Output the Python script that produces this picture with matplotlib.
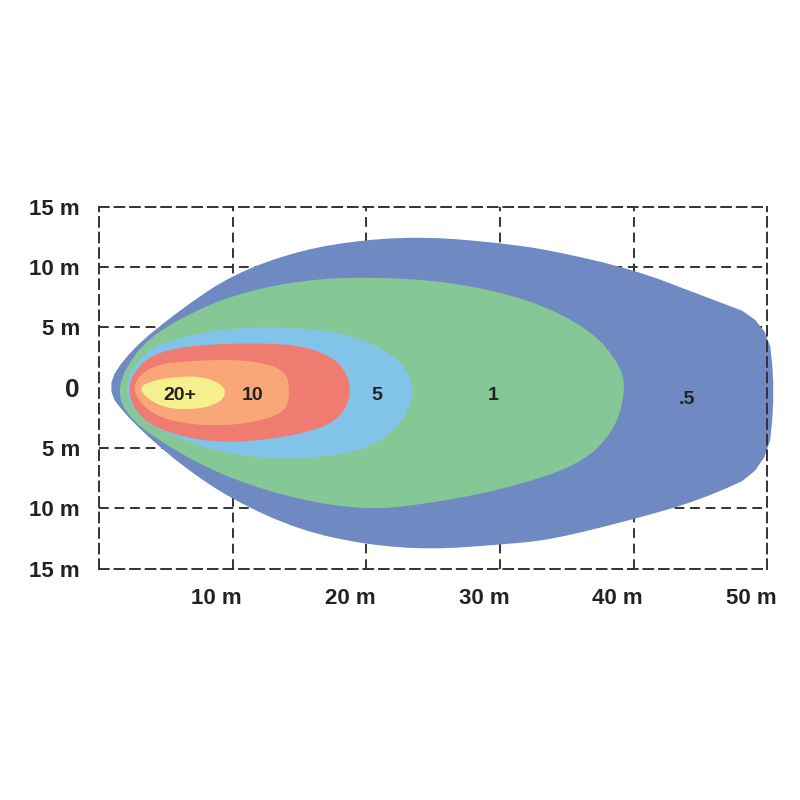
import matplotlib
matplotlib.use("Agg")
import matplotlib.pyplot as plt
import matplotlib.transforms as mtransforms
from matplotlib.patches import Polygon
import numpy as np

plt.rcParams['font.family'] = ['Liberation Sans', 'DejaVu Sans']

zone_labels = [".5", "1", "5", "10", "20+"]
zone_colors = ["#6f89c3", "#86c895", "#82c3ea", "#f07b70", "#f9a679", "#f7f08f"]

blue_x = [0.45, 2.3, 6.1, 10, 15, 20, 24.8, 30, 33.8, 40, 45, 50, 50.6, 50, 45, 40, 33.8, 30, 24.8, 20, 15, 10, 6.1, 2.3]
blue_y = [0, 3.1, 6.5, 9.4, 11.4, 12.3, 12.5, 12, 11.4, 9.8, 7.7, 5.6, -0.2, -6.8, -9.3, -10.9, -12.6, -13, -13.4, -13, -11.8, -9.3, -6.4, -2.7]
green_x = [1.2, 3.1, 6.1, 10, 15, 20, 26.3, 32.3, 36.8, 39, 39.4, 38.6, 36, 30, 24, 20, 15, 10, 6.1, 2.3]
green_y = [0, 3.6, 5.8, 7.7, 8.9, 9.2, 8.8, 7.3, 4.8, 1.9, -0.2, -3.5, -6.4, -8.5, -9.7, -10.1, -9.3, -7.6, -5.5, -2.7]
lblue_x = [1.7, 3.4, 6.1, 10, 15, 18.8, 22.2, 23.7, 22.9, 20.3, 15, 10, 6.1, 3.1]
lblue_y = [0, 3.1, 4.2, 5, 5, 4.4, 2.7, 0.2, -2.7, -5.1, -6, -5.6, -4.3, -2.7]
red_x = [1.95, 3.4, 6.1, 10, 15, 18, 19, 18, 15, 10, 6.1, 3.1]
red_y = [0, 2.5, 3.4, 3.7, 3.6, 2.3, -0.2, -2.7, -3.9, -4.6, -4.1, -2.7]
orange_x = [2.3, 3.8, 7.6, 11.3, 14, 14.3, 13.8, 10.5, 6.8, 3.8]
orange_y = [0, 1.9, 2.3, 2.3, 1.5, -0.6, -2.2, -3.1, -3.1, -2.2]
yellow_x = [2.7, 4.6, 7.6, 9.4, 9.4, 7.6, 4.6]
yellow_y = [0, 0.8, 1.0, 0.2, -1.0, -1.8, -1.7]

label_x = [44, 29.5, 20.8, 11.5, 6]
label_y = [-1.0, -0.6, -0.6, -0.6, -0.6]

x_ticks = [10, 20, 30, 40, 50]
x_tick_labels = ["10 m", "20 m", "30 m", "40 m", "50 m"]
y_ticks = [15, 10, 5, 0, -5, -10, -15]
y_tick_labels = ["15 m", "10 m", "5 m", "0", "5 m", "10 m", "15 m"]


def chaikin(xs, ys, n=3):
    p = np.column_stack([xs, ys]).astype(float)
    for _ in range(n):
        q = np.roll(p, -1, axis=0)
        p = np.column_stack([0.75 * p + 0.25 * q, 0.25 * p + 0.75 * q]).reshape(-1, 2)
    return p


fig = plt.figure(figsize=(8, 8), dpi=100)
ax = fig.add_axes([0.124, 0.289, 0.835, 0.4525])
ax.set_xlim(0, 50)
ax.set_ylim(-15, 15)

for v in [10, 20, 30, 40]:
    ax.axvline(v, color="#333333", ls=(0, (5, 3)), lw=1.4, zorder=1)
for v in [10, 5, -5, -10]:
    ax.axhline(v, color="#333333", ls=(0, (5, 3)), lw=1.4, zorder=1)
for s in ax.spines.values():
    s.set_linestyle((0, (5, 3)))
    s.set_linewidth(1.4)
    s.set_color("#333333")

shapes = [(blue_x, blue_y), (green_x, green_y), (lblue_x, lblue_y),
          (red_x, red_y), (orange_x, orange_y), (yellow_x, yellow_y)]
for (xs, ys), c in zip(shapes, zone_colors):
    ax.add_patch(Polygon(chaikin(xs, ys, 2), closed=True, facecolor=c, edgecolor="none",
                         zorder=2, clip_on=False))

for lx, ly, t in zip(label_x, label_y, zone_labels):
    ax.text(lx, ly, t, ha="center", va="center", fontsize=14, fontweight="bold", color="#222222", zorder=3)

ax.set_xticks([])
xoff = ax.get_xaxis_transform() + mtransforms.ScaledTranslation(-16 / 100, -30 / 100, fig.dpi_scale_trans)
for xv, t in zip(x_ticks, x_tick_labels):
    ax.text(xv, 0, t, transform=xoff, ha="center", va="center", fontsize=16,
            fontweight="bold", color="#222222")
ax.set_yticks(y_ticks)
ax.set_yticklabels(y_tick_labels, fontsize=16, fontweight="bold", color="#222222")
for lab in ax.get_yticklabels():
    if lab.get_text() == "0":
        lab.set_fontsize(19)
ax.tick_params(length=0)
ax.tick_params(axis="y", pad=14)

fig.savefig("out.png", dpi=100)
